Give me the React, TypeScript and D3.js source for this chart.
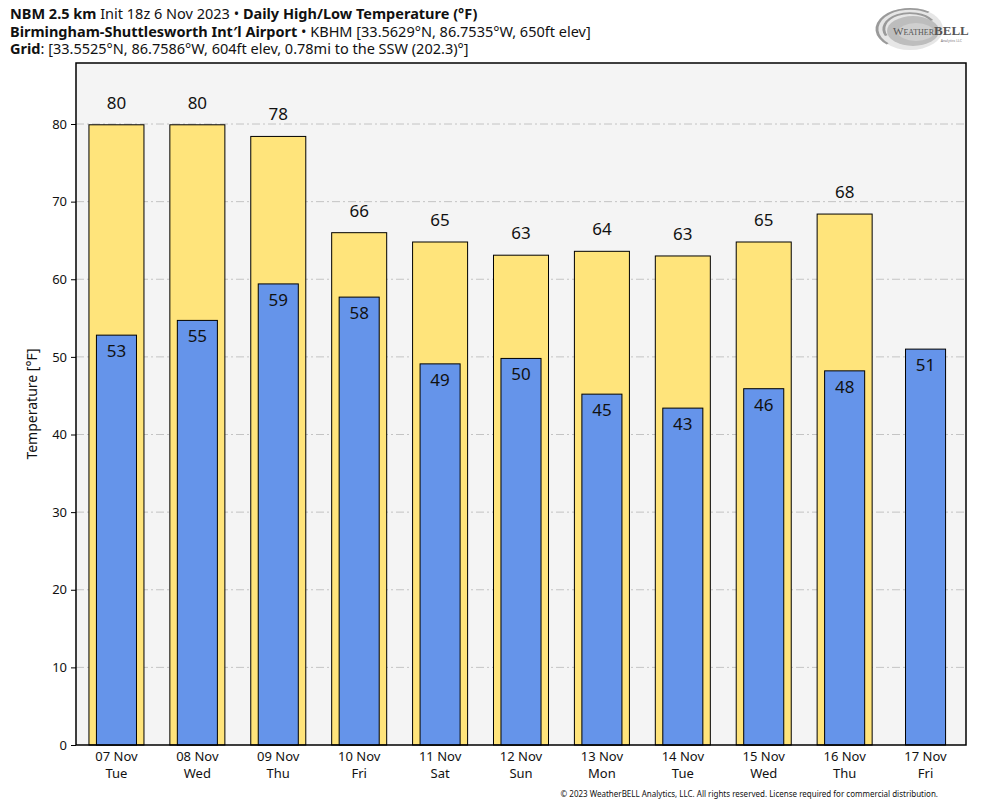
import React, { useEffect, useRef } from 'react';
import * as d3 from 'd3';

const days = ['07 Nov', '08 Nov', '09 Nov', '10 Nov', '11 Nov', '12 Nov', '13 Nov', '14 Nov', '15 Nov', '16 Nov', '17 Nov'];
const weekdays = ['Tue', 'Wed', 'Thu', 'Fri', 'Sat', 'Sun', 'Mon', 'Tue', 'Wed', 'Thu', 'Fri'];
const highs: (number | null)[] = [79.9, 79.9, 78.4, 66.0, 64.8, 63.1, 63.6, 63.0, 64.8, 68.4, null];
const lows = [52.8, 54.7, 59.4, 57.7, 49.1, 49.8, 45.2, 43.4, 45.9, 48.2, 51.0];
const yTicks = [0, 10, 20, 30, 40, 50, 60, 70, 80];

const W = 984;
const H = 808;
const margin = { top: 63, right: 18, bottom: 63, left: 76 };
const font = '"Noto Sans", "DejaVu Sans", sans-serif';

export default function App() {
  const ref = useRef<SVGSVGElement>(null);

  useEffect(() => {
    if (!ref.current) return;
    const svg = d3.select(ref.current);
    svg.selectAll('*').remove();

    const x = d3
      .scaleBand<string>()
      .domain(days)
      .range([margin.left, W - margin.right])
      .padding(0);
    const y = d3.scaleLinear().domain([0, 87.86]).range([H - margin.bottom, margin.top]);
    const bw = x.bandwidth();

    svg.append('rect').attr('width', W).attr('height', H).attr('fill', 'white');

    // header
    const head = svg.append('g').attr('font-family', font).attr('font-size', 14.5).attr('fill', '#111');
    const l1 = head.append('text').attr('x', 10).attr('y', 19);
    l1.append('tspan').attr('font-weight', 'bold').text('NBM 2.5 km');
    l1.append('tspan').text(' Init 18z 6 Nov 2023 • ');
    l1.append('tspan').attr('font-weight', 'bold').text('Daily High/Low Temperature (°F)');
    const l2 = head.append('text').attr('x', 10).attr('y', 37);
    l2.append('tspan').attr('font-weight', 'bold').text('Birmingham-Shuttlesworth Int′l Airport');
    l2.append('tspan').text(' • KBHM [33.5629°N, 86.7535°W, 650ft elev]');
    const l3 = head.append('text').attr('x', 10).attr('y', 54);
    l3.append('tspan').attr('font-weight', 'bold').text('Grid');
    l3.append('tspan').text(': [33.5525°N, 86.7586°W, 604ft elev, 0.78mi to the SSW (202.3)°]');

    // logo
    const logo = svg.append('g').attr('transform', 'translate(910,29)');
    logo.append('ellipse').attr('rx', 33).attr('ry', 21).attr('fill', '#e6e6e6');
    logo.append('ellipse').attr('cx', 3).attr('cy', 2).attr('rx', 26).attr('ry', 15).attr('fill', '#bdbdbd');
    logo.append('ellipse').attr('cx', 6).attr('cy', 3).attr('rx', 18).attr('ry', 9).attr('fill', '#cfcfcf');
    [30, 24].forEach((r, i) => {
      logo
        .append('path')
        .attr('d', d3.arc()({ innerRadius: r - 2.5, outerRadius: r, startAngle: -2.4 + i * 0.4, endAngle: 0.6 + i * 0.4 }) as string)
        .attr('transform', 'scale(1.15,0.7)')
        .attr('fill', '#9a9a9a');
    });
    const lt = logo
      .append('text')
      .attr('x', -17)
      .attr('y', 6)
      .attr('font-family', '"Liberation Serif", serif')
      .attr('fill', '#555');
    lt.append('tspan').attr('font-size', 11).text('W');
    lt.append('tspan').attr('font-size', 8).text('EATHER');
    lt.append('tspan').attr('font-size', 13).attr('font-weight', 'bold').text('BELL');
    logo
      .append('text')
      .attr('x', 52)
      .attr('y', 13)
      .attr('text-anchor', 'end')
      .attr('font-family', font)
      .attr('font-size', 3.5)
      .attr('fill', '#777')
      .text('Analytics LLC');

    // plot background
    svg
      .append('rect')
      .attr('x', margin.left)
      .attr('y', margin.top)
      .attr('width', W - margin.left - margin.right)
      .attr('height', H - margin.top - margin.bottom)
      .attr('fill', '#f4f4f4');

    // grid
    svg
      .append('g')
      .selectAll('line')
      .data(yTicks.filter((t) => t > 0))
      .enter()
      .append('line')
      .attr('x1', margin.left)
      .attr('x2', W - margin.right)
      .attr('y1', (d) => y(d))
      .attr('y2', (d) => y(d))
      .attr('stroke', '#b8b8b8')
      .attr('stroke-width', 0.8)
      .attr('stroke-dasharray', '8,3,2,3');

    // high bars
    const hiData = days.map((d, i) => ({ d, v: highs[i] })).filter((o) => o.v !== null) as { d: string; v: number }[];
    const hiW = bw * 0.68;
    svg
      .append('g')
      .selectAll('rect')
      .data(hiData)
      .enter()
      .append('rect')
      .attr('x', (o) => (x(o.d) as number) + (bw - hiW) / 2)
      .attr('y', (o) => y(o.v))
      .attr('width', hiW)
      .attr('height', (o) => y(0) - y(o.v))
      .attr('fill', '#ffe47b')
      .attr('stroke', '#000')
      .attr('stroke-width', 1);

    svg
      .append('g')
      .selectAll('text')
      .data(hiData)
      .enter()
      .append('text')
      .attr('x', (o) => (x(o.d) as number) + bw / 2)
      .attr('y', (o) => y(o.v) - 16)
      .attr('text-anchor', 'middle')
      .attr('font-family', font)
      .attr('font-size', 17)
      .attr('fill', '#111')
      .text((o) => Math.round(o.v));

    // low bars
    const loData = days.map((d, i) => ({ d, v: lows[i] }));
    const loW = bw * 0.495;
    svg
      .append('g')
      .selectAll('rect')
      .data(loData)
      .enter()
      .append('rect')
      .attr('x', (o) => (x(o.d) as number) + (bw - loW) / 2)
      .attr('y', (o) => y(o.v))
      .attr('width', loW)
      .attr('height', (o) => y(0) - y(o.v))
      .attr('fill', '#6594ea')
      .attr('stroke', '#000')
      .attr('stroke-width', 1);

    svg
      .append('g')
      .selectAll('text')
      .data(loData)
      .enter()
      .append('text')
      .attr('x', (o) => (x(o.d) as number) + bw / 2)
      .attr('y', (o) => y(o.v) + 22)
      .attr('text-anchor', 'middle')
      .attr('font-family', font)
      .attr('font-size', 17)
      .attr('fill', '#111')
      .text((o) => Math.round(o.v));

    // frame
    svg
      .append('rect')
      .attr('x', margin.left)
      .attr('y', margin.top)
      .attr('width', W - margin.left - margin.right)
      .attr('height', H - margin.top - margin.bottom)
      .attr('fill', 'none')
      .attr('stroke', '#000')
      .attr('stroke-width', 1.5);

    // y axis
    const yAxis = svg
      .append('g')
      .attr('transform', `translate(${margin.left},0)`)
      .call(d3.axisLeft(y).tickValues(yTicks).tickSize(5).tickPadding(4).tickFormat(d3.format('d')));
    yAxis.select('.domain').remove();
    yAxis.selectAll('text').attr('font-family', font).attr('font-size', 13).attr('fill', '#111');

    // x axis labels
    const xl = svg.append('g').attr('font-family', font).attr('font-size', 13).attr('fill', '#111');
    days.forEach((d, i) => {
      const cx = (x(d) as number) + bw / 2;
      xl.append('text').attr('x', cx).attr('y', 761).attr('text-anchor', 'middle').text(d);
      xl.append('text').attr('x', cx).attr('y', 778).attr('text-anchor', 'middle').text(weekdays[i]);
    });

    // y label
    svg
      .append('text')
      .attr('transform', `translate(37,${(margin.top + H - margin.bottom) / 2}) rotate(-90)`)
      .attr('text-anchor', 'middle')
      .attr('font-family', font)
      .attr('font-size', 14)
      .attr('fill', '#111')
      .text('Temperature [°F]');

    // copyright
    svg
      .append('text')
      .attr('x', 938)
      .attr('y', 797)
      .attr('text-anchor', 'end')
      .attr('font-family', font)
      .attr('font-size', 8)
      .attr('fill', '#111')
      .text('© 2023 WeatherBELL Analytics, LLC. All rights reserved. License required for commercial distribution.');
  }, []);

  return <svg ref={ref} width={W} height={H} style={{ position: 'absolute', left: 0, top: 0 }} />;
}
